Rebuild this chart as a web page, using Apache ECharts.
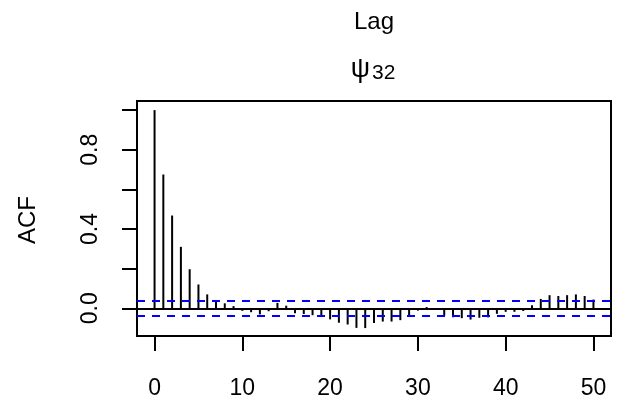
<!DOCTYPE html>
<html>
<head>
<meta charset="utf-8">
<script src="https://cdn.jsdelivr.net/npm/echarts@6/dist/echarts.min.js"></script>
<style>html,body{margin:0;padding:0;background:#fff;}#c{width:620px;height:400px;}</style>
</head>
<body>
<div id="c"></div>
<script>
var lags = [0,1,2,3,4,5,6,7,8,9,10,11,12,13,14,15,16,17,18,19,20,21,22,23,24,25,26,27,28,29,30,31,32,33,34,35,36,37,38,39,40,41,42,43,44,45,46,47,48,49,50];
var acfValues = [1.0,0.675,0.468,0.31,0.197,0.12,0.07,0.042,0.025,0.011,-0.013,-0.02,-0.031,-0.015,0.027,0.013,-0.025,-0.029,-0.035,-0.043,-0.056,-0.073,-0.082,-0.099,-0.1,-0.075,-0.067,-0.067,-0.06,-0.036,-0.012,0.006,-0.004,-0.038,-0.045,-0.05,-0.057,-0.048,-0.046,-0.028,-0.018,-0.018,-0.014,0.015,0.047,0.066,0.062,0.066,0.07,0.062,0.044];
var ciBound = 0.043;
var xTicks = [0,10,20,30,40,50];
var yTicks = [0,0.2,0.4,0.6,0.8,1.0];
var yLabels = [0,0.4,0.8];
var titleTop = 'Lag';
var titleSymbol = 'ψ';
var titleSub = '32';
var yName = 'ACF';

var FONT = '"Liberation Sans", Arial, Helvetica, sans-serif';
var chart = echarts.init(document.getElementById('c'), null, {renderer: 'canvas'});
var data = lags.map(function (l, i) { return [l, acfValues[i]]; });

chart.setOption({
  animation: false,
  backgroundColor: '#ffffff',
  grid: {left: 137, right: 9, top: 101, bottom: 62, show: true, borderColor: '#000', borderWidth: 2, backgroundColor: 'transparent'},
  xAxis: {
    type: 'value', min: -2, max: 52,
    axisLine: {show: false, onZero: false},
    splitLine: {show: false},
    axisTick: {show: true, inside: false, length: 15, lineStyle: {color: '#000', width: 2}, customValues: xTicks},
    axisLabel: {margin: 41, fontFamily: FONT, fontSize: 23, color: '#000', customValues: xTicks}
  },
  yAxis: {
    type: 'value', min: -0.14, max: 1.046,
    axisLine: {show: false, onZero: false},
    splitLine: {show: false},
    axisTick: {show: true, inside: false, length: 15, lineStyle: {color: '#000', width: 2}, customValues: yTicks},
    axisLabel: {margin: 35, rotate: 90, fontFamily: FONT, fontSize: 23, color: '#000', customValues: yLabels,
      formatter: function (v) { return v.toFixed(1); }}
  },
  series: [{
    type: 'bar',
    data: data,
    barWidth: 2,
    itemStyle: {color: '#000'},
    markLine: {
      silent: true, symbol: ['none', 'none'], label: {show: false},
      data: [
        {yAxis: 0, lineStyle: {color: '#000', type: 'solid', width: 2}},
        {yAxis: ciBound, lineStyle: {color: '#0000ff', type: [8, 7], width: 2}},
        {yAxis: -ciBound, lineStyle: {color: '#0000ff', type: [8, 7], width: 2}}
      ]
    }
  }],
  graphic: [
    {type: 'text', x: 374, y: 22, style: {text: titleTop, font: '24px ' + FONT, fill: '#000', align: 'center', verticalAlign: 'middle'}},
    {type: 'text', x: 370, y: 70, style: {text: titleSymbol, font: '27px ' + FONT, fill: '#000', align: 'right', verticalAlign: 'middle'}},
    {type: 'text', x: 372, y: 73, style: {text: titleSub, font: '21px ' + FONT, fill: '#000', align: 'left', verticalAlign: 'middle'}},
    {type: 'text', x: 28, y: 220, rotation: Math.PI / 2, style: {text: yName, font: '24px ' + FONT, fill: '#000', align: 'center', verticalAlign: 'middle'}}
  ]
});
</script>
</body>
</html>
